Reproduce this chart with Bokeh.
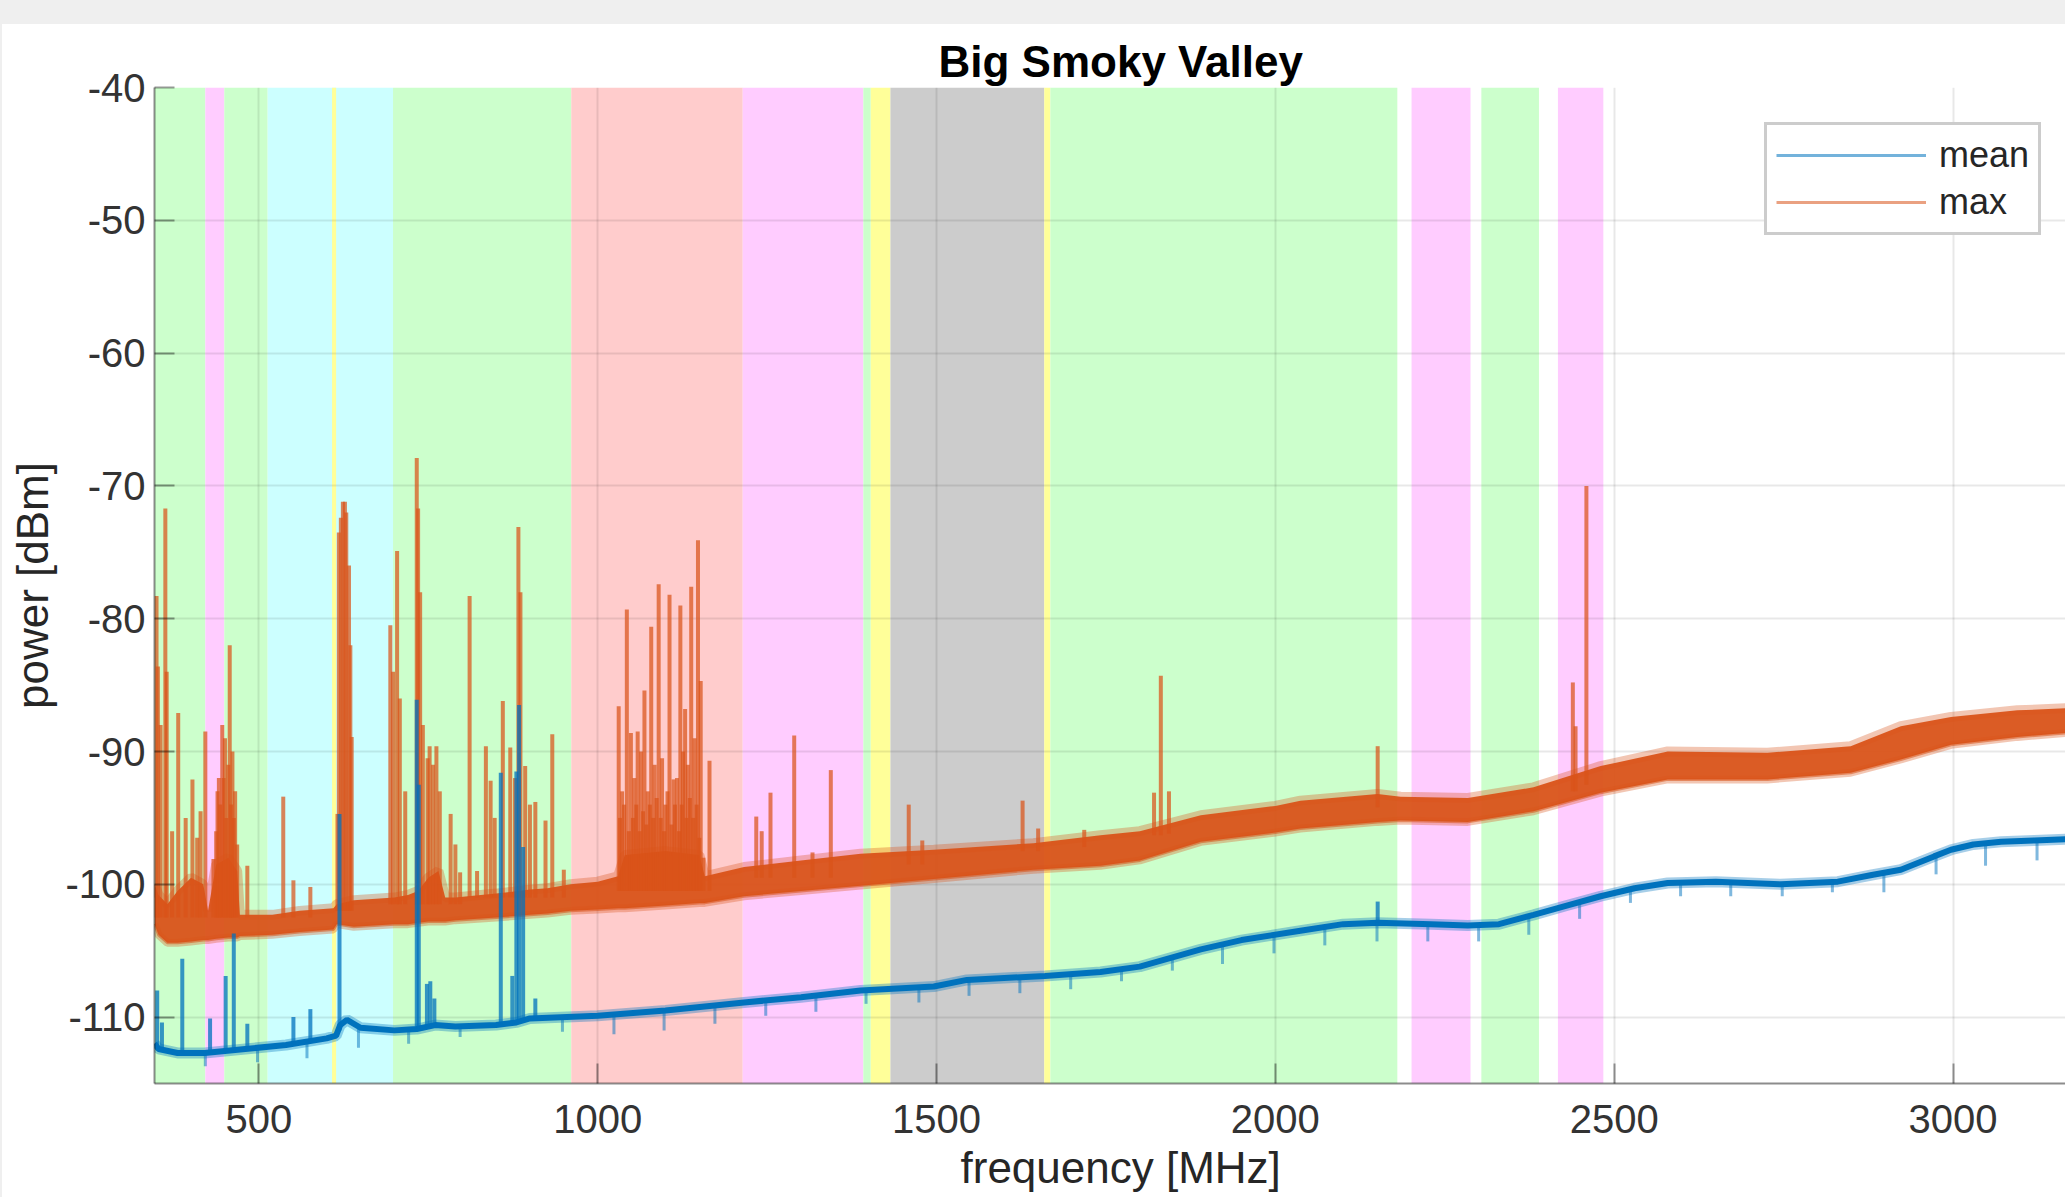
from bokeh.plotting import figure
from bokeh.models import Range1d, FixedTicker, Title, Legend, LegendItem, Div
from bokeh.layouts import column, row
from bokeh.embed import file_html
from bokeh.resources import INLINE

# ---------------- data ----------------
x_ticks = [500, 1000, 1500, 2000, 2500, 3000]
y_ticks = [-110, -100, -90, -80, -70, -60, -50, -40]

# spectrum allocation bands (MHz)
band_left = [346, 421, 449, 513, 608, 698, 961, 1214, 1392, 1403, 1432, 1659, 1668, 2201, 2304, 2417]
band_right = [421, 449, 513, 698, 614, 961, 1214, 1392, 1403, 1432, 1659, 1668, 2180, 2288, 2389, 2484]
band_color = ["#ccffcc", "#ffccff", "#ccffcc", "#ccffff", "#ffff99", "#ccffcc", "#ffcccc", "#ffccff",
              "#ccffcc", "#ffff99", "#cccccc", "#ffff99", "#ccffcc", "#ffccff", "#ccffcc", "#ffccff"]

# max trace: noise band envelope
max_f = [346, 352, 365, 380, 400, 418, 425, 437, 455, 468, 472, 520, 560, 610, 615, 640, 700, 720, 735, 750,
         765, 775, 790, 850, 900, 926, 960, 1000, 1030, 1040, 1100, 1150, 1158, 1216, 1300, 1388, 1496, 1643,
         1742, 1800, 1890, 2000, 2037, 2151, 2185, 2284, 2381, 2480, 2579, 2726, 2849, 2923, 2997, 3095, 3166]
max_lo = [-103.0, -103.8, -104.4, -104.4, -104.3, -104.2, -104.2, -104.1, -104.0, -104.0, -103.9, -103.8,
          -103.6, -103.4, -103.0, -103.2, -103.0, -103.0, -102.9, -102.8, -102.8, -102.8, -102.7, -102.5,
          -102.3, -102.2, -102.0, -101.9, -101.8, -101.8, -101.6, -101.4, -101.4, -100.9, -100.5, -100.1,
          -99.6, -98.9, -98.6, -98.2, -96.8, -96.1, -95.8, -95.3, -95.2, -95.3, -94.5, -93.1, -92.1, -92.1,
          -91.6, -90.6, -89.5, -88.9, -88.6]
max_hi = [-100.0, -100.8, -101.5, -100.5, -99.5, -100.0, -102.0, -98.5, -98.0, -99.0, -102.3, -102.3,
          -102.0, -101.8, -101.5, -101.2, -101.0, -100.8, -100.5, -99.5, -99.0, -101.0, -101.0, -100.7,
          -100.4, -100.3, -100.0, -99.8, -99.4, -97.8, -97.5, -97.8, -99.4, -98.7, -98.2, -97.7, -97.4,
          -96.9, -96.3, -96.0, -94.8, -94.1, -93.7, -93.2, -93.4, -93.5, -92.7, -91.1, -90.0, -90.1,
          -89.6, -88.1, -87.4, -86.9, -86.75]

# max trace: narrow spikes
max_spike_f = [349, 351, 355, 362, 364, 372, 381, 392, 402, 409, 414, 421, 433, 437, 439, 441, 443, 446, 448,
               450, 452, 455, 457, 459, 461, 463, 465, 468, 483, 536, 551, 576,
               616, 618, 621, 624, 627, 629, 633, 635, 637,
               694, 698, 704, 708, 716, 733, 735, 738, 742, 749, 752, 757, 762, 767, 783, 790, 797,
               811, 822, 835, 842, 848, 860, 871, 878, 883, 886, 893, 900, 908, 923, 933, 950,
               1031, 1033, 1036, 1039, 1043, 1046, 1049, 1052, 1054, 1057, 1059, 1062, 1064, 1067, 1069,
               1072, 1074, 1077, 1079, 1082, 1084, 1087, 1090, 1093, 1095, 1098, 1100, 1103, 1106, 1109,
               1112, 1114, 1117, 1120, 1122, 1124, 1126, 1129, 1131, 1133, 1136, 1138, 1141, 1143, 1146,
               1148, 1150, 1152, 1156, 1165,
               1234, 1242, 1255, 1290, 1317, 1344,
               1459, 1479, 1627, 1650, 1718, 1821, 1831, 1843, 2151, 2439, 2443, 2459]
max_spike_top = [-78.3, -83.6, -88.0, -71.7, -84.0, -96.0, -87.1, -95.0, -92.1, -96.5, -94.5, -88.5, -98.1,
                 -96.0, -93.0, -92.0, -94.0, -88.0, -92.0, -89.0, -95.0, -91.0, -82.0, -94.0, -90.0, -95.0,
                 -93.0, -97.0, -98.6, -93.4, -99.7, -100.2,
                 -94.7, -73.5, -72.4, -71.2, -71.2, -72.0, -76.0, -82.0, -88.9,
                 -80.5, -84.0, -74.9, -86.0, -93.0, -67.9, -71.7, -78.0, -88.0, -90.5, -89.6, -91.0, -89.6,
                 -93.0, -94.7, -97.0, -99.1,
                 -78.3, -99.0, -89.6, -92.2, -95.0, -86.2, -89.7, -92.0, -73.1, -78.0, -91.1, -94.0, -93.8,
                 -95.2, -88.7, -98.9,
                 -86.6, -95.0, -93.0, -94.0, -79.3, -96.0, -88.6, -95.0, -92.0, -94.0, -88.5, -96.0, -90.0,
                 -94.5, -85.4, -95.5, -93.0, -94.0, -80.6, -95.0, -91.0, -93.5, -77.4, -95.0, -90.5, -96.0,
                 -94.0, -93.0, -78.2, -95.5, -92.1, -94.0, -92.0, -96.0, -79.0, -94.0, -90.0, -86.8, -95.0,
                 -91.0, -93.5, -77.6, -95.0, -89.0, -94.0, -74.1, -96.5, -84.7, -98.0, -90.7,
                 -94.9, -96.0, -93.1, -88.8, -97.6, -91.4,
                 -94.0, -96.7, -93.7, -95.8, -95.9, -93.1, -84.3, -93.0, -89.6, -84.8, -88.1, -70.0]
max_spike_base = [-102.5, -102.5, -102.5, -102.5, -102.5, -102.5, -102.5, -102.5, -102.5, -102.5, -102.5,
                  -102.5, -102.5, -102.5, -102.5, -102.5, -102.5, -102.5, -102.5, -102.5, -102.5, -102.5,
                  -102.5, -102.5, -102.5, -102.5, -102.5, -102.5, -102.5, -102.5, -102.5, -102.5,
                  -102.0, -102.0, -102.0, -102.0, -102.0, -102.0, -102.0, -102.0, -102.0,
                  -101.5, -101.5, -101.5, -101.5, -101.5, -101.5, -101.5, -101.5, -101.5, -101.5, -101.5,
                  -101.5, -101.5, -101.5, -101.5, -101.5, -101.5,
                  -101.0, -101.0, -101.0, -101.0, -101.0, -101.0, -101.0, -101.0, -101.0, -101.0, -101.0,
                  -101.0, -101.0, -101.0, -101.0, -101.0,
                  -100.5, -100.5, -100.5, -100.5, -100.5, -100.5, -100.5, -100.5, -100.5, -100.5, -100.5,
                  -100.5, -100.5, -100.5, -100.5, -100.5, -100.5, -100.5, -100.5, -100.5, -100.5, -100.5,
                  -100.5, -100.5, -100.5, -100.5, -100.5, -100.5, -100.5, -100.5, -100.5, -100.5, -100.5,
                  -100.5, -100.5, -100.5, -100.5, -100.5, -100.5, -100.5, -100.5, -100.5, -100.5, -100.5,
                  -100.5, -100.5, -100.5, -100.5, -100.5, -100.5,
                  -99.5, -99.5, -99.5, -99.5, -99.5, -99.5,
                  -98.5, -98.5, -97.5, -97.5, -97.2, -96.3, -96.3, -96.2, -94.2, -93.0, -93.0, -92.5]

# mean trace
mean_f = [346, 352, 380, 420, 480, 540, 600, 614, 620, 630, 650, 700, 733, 760, 790, 850, 880, 900, 1000,
          1100, 1216, 1300, 1388, 1496, 1545, 1660, 1742, 1800, 1890, 1950, 2037, 2100, 2151, 2230, 2284,
          2330, 2381, 2430, 2480, 2530, 2579, 2650, 2746, 2830, 2880, 2923, 2972, 2997, 3030, 3071, 3120, 3166]
mean_v = [-112.0, -112.4, -112.7, -112.7, -112.4, -112.1, -111.6, -111.4, -110.6, -110.2, -110.8, -111.0,
          -110.9, -110.6, -110.7, -110.6, -110.4, -110.1, -109.9, -109.5, -108.9, -108.5, -108.0, -107.7,
          -107.2, -106.9, -106.6, -106.2, -104.9, -104.2, -103.5, -103.0, -102.9, -103.0, -103.1, -103.0,
          -102.3, -101.6, -100.9, -100.3, -99.9, -99.8, -100.0, -99.8, -99.3, -98.9, -97.9, -97.4, -97.0,
          -96.8, -96.7, -96.6]

mean_spike_f = [350, 357, 387, 428, 451, 463, 483, 551, 576, 619, 733, 736, 748, 753, 759, 857, 874, 880,
                884, 890, 908, 2151]
mean_spike_top = [-108.0, -110.4, -105.6, -110.1, -106.9, -103.7, -110.5, -110.0, -109.4, -94.7, -86.1,
                  -92.5, -107.5, -107.3, -108.6, -91.6, -106.9, -91.5, -86.5, -97.2, -108.6, -101.3]
mean_spike_base = [-112.4, -112.5, -112.7, -112.7, -112.6, -112.6, -112.4, -112.1, -111.9, -111.0, -110.9,
                   -110.9, -110.8, -110.7, -110.6, -110.6, -110.5, -110.4, -110.4, -110.3, -110.1, -102.9]

# periodic downward dips of the mean trace
dip_f = [421, 498, 571, 647, 721, 797, 948, 1024, 1098, 1173, 1248, 1322, 1396, 1474, 1548, 1623, 1698,
         1773, 1848, 1922, 1998, 2073, 2150, 2225, 2300, 2374, 2449, 2524, 2598, 2672, 2748, 2822, 2898,
         2975, 3048, 3124]
dip_top = [-112.7, -112.4, -111.9, -110.8, -111.0, -110.7, -110.0, -109.8, -109.5, -109.1, -108.8, -108.4,
           -108.0, -107.8, -107.2, -107.0, -106.8, -106.4, -105.5, -104.6, -103.8, -103.2, -102.9, -103.0,
           -103.1, -102.4, -101.4, -100.4, -99.9, -99.8, -100.0, -99.8, -99.2, -97.8, -96.9, -96.7]
dip_bottom = [-113.7, -113.4, -113.1, -112.3, -112.0, -111.5, -111.1, -111.3, -111.0, -110.5, -109.9,
              -109.6, -109.0, -108.9, -108.4, -108.2, -107.9, -107.3, -106.5, -106.0, -105.2, -104.6,
              -104.3, -104.3, -104.3, -103.8, -102.6, -101.4, -100.9, -100.9, -100.9, -100.6, -100.6,
              -99.25, -98.6, -98.2]

BLUE = "#0072BD"
ORANGE = "#D95319"
FONT = "Liberation Sans"

# ---------------- figure ----------------
p = figure(width=2063, height=1173, output_backend="svg", toolbar_location=None,
           x_range=Range1d(346, 3166), y_range=Range1d(-115, -40),
           min_border_left=152, min_border_right=0, min_border_top=63, min_border_bottom=114,
           background_fill_color="white", border_fill_color="white", outline_line_color=None)

p.title.text = "Big Smoky Valley"
p.title.align = "left"
p.title.offset = 784
p.title.text_font = FONT
p.title.text_font_size = "44px"
p.title.text_font_style = "bold"
p.title.text_color = "#000000"
p.title.standoff = 3

# bands
p.quad(left=band_left, right=band_right, bottom=-115, top=-40, fill_color=band_color,
       line_color=None, level="image")

# thin legend renderers (drawn first, hidden beneath the thick traces)
leg_mean = p.line(mean_f, mean_v, line_color=BLUE, line_alpha=0.55, line_width=3)
leg_max = p.line(max_f, max_lo, line_color=ORANGE, line_alpha=0.55, line_width=3)

# max trace
p.line(max_f, max_hi, line_color=ORANGE, line_alpha=0.33, line_width=10)
p.line(max_f, max_lo, line_color=ORANGE, line_alpha=0.33, line_width=8)
p.varea(x=max_f, y1=max_lo, y2=max_hi, fill_color=ORANGE, fill_alpha=0.95)
p.segment(x0=max_spike_f, y0=max_spike_base, x1=max_spike_f, y1=max_spike_top,
          line_color=ORANGE, line_alpha=0.72, line_width=4)

# mean trace
p.line(mean_f, mean_v, line_color=BLUE, line_alpha=0.35, line_width=11)
p.line(mean_f, mean_v, line_color=BLUE, line_width=6)
p.segment(x0=mean_spike_f, y0=mean_spike_base, x1=mean_spike_f, y1=mean_spike_top,
          line_color=BLUE, line_alpha=0.75, line_width=4)
p.segment(x0=dip_f, y0=dip_bottom, x1=dip_f, y1=dip_top,
          line_color=BLUE, line_alpha=0.5, line_width=3)

legend = Legend(items=[LegendItem(label="mean", renderers=[leg_mean]),
                       LegendItem(label="max", renderers=[leg_max])],
                location=(1610, 848), label_text_font=FONT, label_text_font_size="36px",
                label_text_color="#262626", glyph_width=150, glyph_height=36, label_height=36,
                label_standoff=13, padding=9, spacing=5, margin=0,
                border_line_color="#999999", border_line_width=3,
                background_fill_color="white", background_fill_alpha=1.0)
p.add_layout(legend)

# axes
p.xaxis.ticker = FixedTicker(ticks=x_ticks)
p.yaxis.ticker = FixedTicker(ticks=y_ticks)
p.xaxis.major_label_overrides = {t: str(t) for t in x_ticks}
p.yaxis.major_label_overrides = {t: str(t) for t in y_ticks}
for ax in (p.xaxis[0], p.yaxis[0]):
    ax.major_tick_in = 20
    ax.major_tick_out = 0
    ax.minor_tick_line_color = None
    ax.axis_line_color = "#000000"
    ax.axis_line_alpha = 0.45
    ax.axis_line_width = 2
    ax.major_tick_line_color = "#000000"
    ax.major_tick_line_alpha = 0.4
    ax.major_tick_line_width = 2
    ax.major_label_text_font = FONT
    ax.major_label_text_font_size = "40px"
    ax.major_label_text_color = "#333333"
p.xaxis.major_label_standoff = 21
p.yaxis.major_label_standoff = 9
p.yaxis.axis_label = "power [dBm]"
p.yaxis.axis_label_text_font = FONT
p.yaxis.axis_label_text_font_size = "44px"
p.yaxis.axis_label_text_font_style = "normal"
p.yaxis.axis_label_text_color = "#262626"
p.yaxis.axis_label_standoff = 5

p.add_layout(Title(text="frequency [MHz]", align="left", offset=806, text_font=FONT,
                   text_font_size="44px", text_font_style="normal", text_color="#262626",
                   standoff=11), "below")

# grid
p.xgrid.ticker = FixedTicker(ticks=x_ticks)
p.ygrid.ticker = FixedTicker(ticks=y_ticks)
for g in (p.xgrid[0], p.ygrid[0]):
    g.grid_line_color = "#000000"
    g.grid_line_alpha = 0.09
    g.grid_line_width = 2

top_strip = Div(text="", width=2065, height=24, margin=0, styles={"background-color": "#efefef"})
left_strip = Div(text="", width=2, height=1173, margin=0, styles={"background-color": "#efefef"})
layout = column(top_strip, row(left_strip, p, spacing=0), spacing=0)

open("out.html", "w").write(file_html(layout, INLINE))
